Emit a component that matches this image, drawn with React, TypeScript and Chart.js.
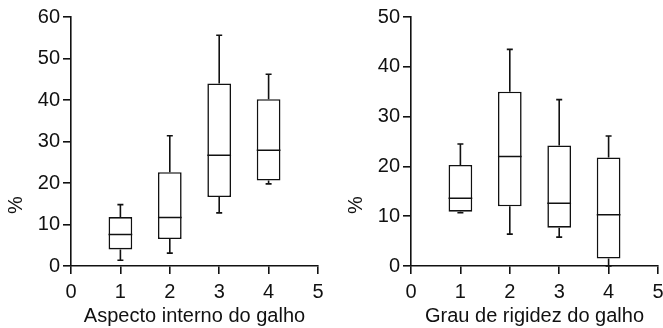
import { useEffect, useRef } from 'react';
import { Chart, registerables } from 'chart.js';

Chart.register(...registerables);

// ---- data ----
const positions = [1, 2, 3, 4];
const xTicks = [0, 1, 2, 3, 4, 5];

const leftTitle = 'Aspecto interno do galho';
const leftMin = [1.4, 3.1, 12.8, 19.8];
const leftQ1 = [4.0, 6.5, 16.6, 20.6];
const leftMedian = [7.6, 11.7, 26.7, 27.9];
const leftQ3 = [11.8, 22.6, 44.0, 40.2];
const leftMax = [14.8, 31.4, 55.6, 46.2];
const leftYMax = 60;

const rightTitle = 'Grau de rigidez do galho';
const rightMin = [10.7, 6.4, 5.8, 0];
const rightQ1 = [10.9, 12.0, 7.7, 1.5];
const rightMedian = [13.6, 22.0, 12.6, 10.3];
const rightQ3 = [20.3, 35.0, 24.2, 21.8];
const rightMax = [24.5, 43.5, 33.4, 26.1];
const rightYMax = 50;

const yLabel = '%';

const FONT = "'Liberation Sans', Arial, Helvetica, sans-serif";
const INK = '#111111';
const LW = 1.6;

type BoxOpts = {
  min: number[];
  q1: number[];
  median: number[];
  q3: number[];
  max: number[];
  label: string;
};

const boxPlugin = {
  id: 'boxWhiskers',
  afterDatasetsDraw(chart: any, _args: any, opts: BoxOpts) {
    const { ctx, chartArea } = chart;
    const y = chart.scales.y;
    const meta = chart.getDatasetMeta(0);
    ctx.save();
    ctx.strokeStyle = INK;
    ctx.lineWidth = LW;
    ctx.lineCap = 'butt';
    meta.data.forEach((bar: any, i: number) => {
      const { x, width } = bar.getProps(['x', 'width'], true);
      const half = width / 2;
      const cap = 3;
      const yMin = y.getPixelForValue(opts.min[i]);
      const yQ1 = y.getPixelForValue(opts.q1[i]);
      const yMed = y.getPixelForValue(opts.median[i]);
      const yQ3 = y.getPixelForValue(opts.q3[i]);
      const yMax = y.getPixelForValue(opts.max[i]);
      ctx.beginPath();
      ctx.moveTo(x - half, yMed);
      ctx.lineTo(x + half, yMed);
      ctx.moveTo(x, yQ3);
      ctx.lineTo(x, yMax);
      ctx.moveTo(x - cap, yMax);
      ctx.lineTo(x + cap, yMax);
      ctx.moveTo(x, yQ1);
      ctx.lineTo(x, yMin);
      ctx.moveTo(x - cap, yMin);
      ctx.lineTo(x + cap, yMin);
      ctx.stroke();
    });
    // y axis label
    ctx.fillStyle = INK;
    ctx.font = `20px ${FONT}`;
    ctx.textAlign = 'center';
    ctx.textBaseline = 'middle';
    ctx.translate(chartArea.left - 55, chartArea.bottom - 61);
    ctx.rotate(-Math.PI / 2);
    ctx.fillText(opts.label, 0, 0);
    ctx.restore();
  },
};

function makeConfig(
  title: string,
  mins: number[],
  q1: number[],
  med: number[],
  q3: number[],
  maxs: number[],
  yMax: number,
  yWidth: number,
  padRight: number
): any {
  return {
    type: 'bar',
    data: {
      datasets: [
        {
          data: positions.map((p, i) => ({ x: p, y: [q1[i], q3[i]] })),
          backgroundColor: '#ffffff',
          borderColor: INK,
          borderWidth: LW,
          borderSkipped: false,
          barPercentage: 0.48,
          categoryPercentage: 1,
        },
      ],
    },
    options: {
      responsive: false,
      animation: false,
      devicePixelRatio: 1,
      layout: { padding: { top: 17, left: 0, right: padRight, bottom: 0 } },
      plugins: {
        legend: { display: false },
        tooltip: { enabled: false },
        boxWhiskers: { min: mins, q1, median: med, q3, max: maxs, label: yLabel },
      },
      scales: {
        x: {
          type: 'linear',
          min: xTicks[0],
          max: xTicks[xTicks.length - 1],
          offset: false,
          afterBuildTicks: (s: any) => {
            s.ticks = xTicks.map((v) => ({ value: v }));
          },
          afterFit: (s: any) => {
            s.height = 62;
          },
          grid: {
            offset: false,
            drawOnChartArea: false,
            drawTicks: true,
            tickLength: 8,
            color: INK,
            lineWidth: LW,
          },
          border: { display: true, color: INK, width: LW },
          ticks: {
            color: INK,
            font: { family: FONT, size: 20 },
            padding: 6,
            maxRotation: 0,
            autoSkip: false,
          },
          title: {
            display: true,
            text: title,
            color: INK,
            font: { family: FONT, size: 20 },
            padding: { top: 0, bottom: 0 },
          },
        },
        y: {
          min: 0,
          max: yMax,
          afterFit: (s: any) => {
            s.width = yWidth;
          },
          grid: {
            drawOnChartArea: false,
            drawTicks: true,
            tickLength: 8,
            color: INK,
            lineWidth: LW,
          },
          border: { display: true, color: INK, width: LW },
          ticks: {
            stepSize: 10,
            color: INK,
            font: { family: FONT, size: 20 },
            padding: 3,
          },
        },
      },
    },
    plugins: [boxPlugin],
  };
}

export default function App() {
  const leftRef = useRef<HTMLCanvasElement>(null);
  const rightRef = useRef<HTMLCanvasElement>(null);

  useEffect(() => {
    const c1 = new Chart(
      leftRef.current as HTMLCanvasElement,
      makeConfig(leftTitle, leftMin, leftQ1, leftMedian, leftQ3, leftMax, leftYMax, 71, 13)
    );
    const c2 = new Chart(
      rightRef.current as HTMLCanvasElement,
      makeConfig(rightTitle, rightMin, rightQ1, rightMedian, rightQ3, rightMax, rightYMax, 80, 13)
    );
    return () => {
      c1.destroy();
      c2.destroy();
    };
  }, []);

  return (
    <div
      style={{
        position: 'fixed',
        left: 0,
        top: 0,
        width: 663,
        height: 328,
        overflow: 'hidden',
        background: '#ffffff',
      }}
    >
      <canvas
        ref={leftRef}
        width={331}
        height={328}
        style={{ position: 'absolute', left: 0, top: 0, width: 331, height: 328 }}
      />
      <canvas
        ref={rightRef}
        width={340}
        height={328}
        style={{ position: 'absolute', left: 331, top: 0, width: 340, height: 328 }}
      />
    </div>
  );
}
